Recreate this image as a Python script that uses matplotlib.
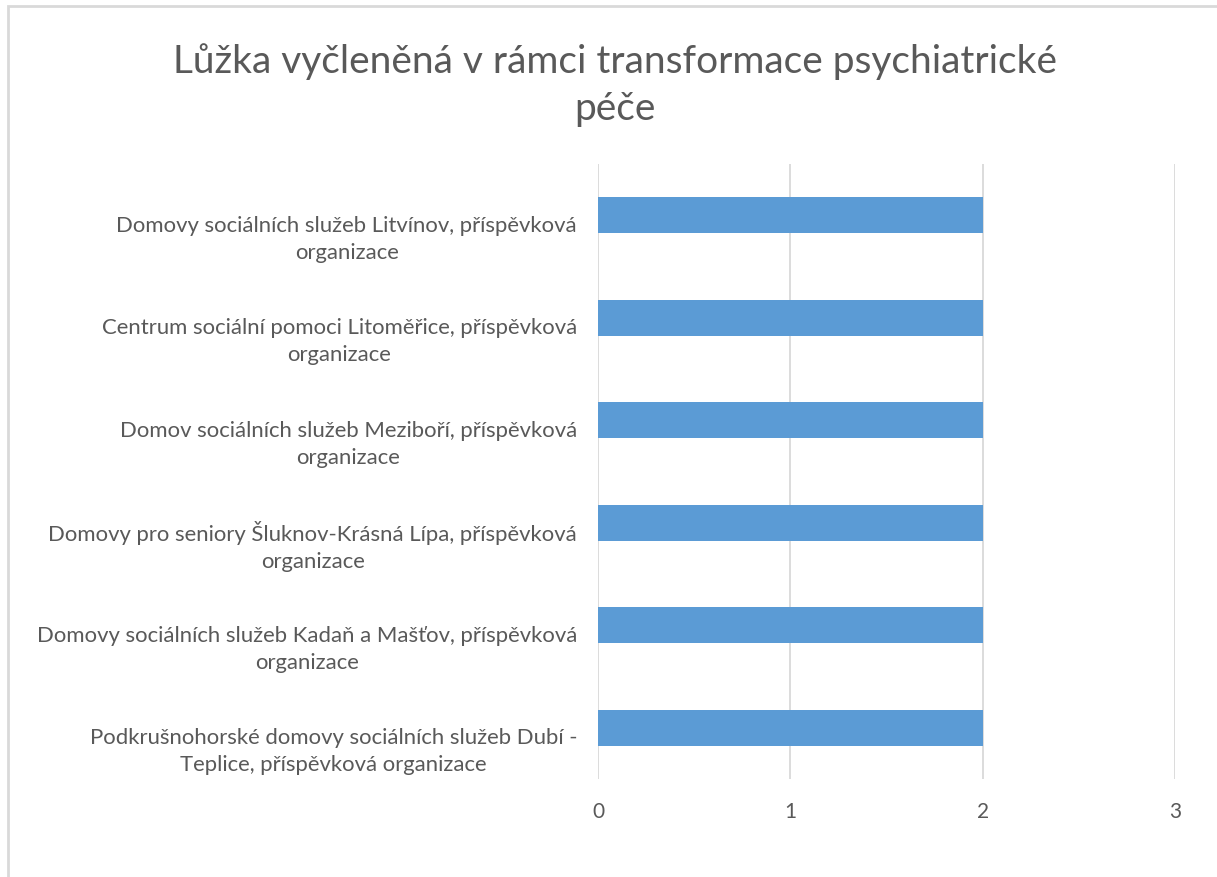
import matplotlib
matplotlib.use("Agg")
import matplotlib.pyplot as plt
from matplotlib.patches import Rectangle
from matplotlib.transforms import blended_transform_factory, ScaledTranslation

# data (top to bottom as shown)
categories = [
    "Domovy sociálních služeb Litvínov, příspěvková\norganizace",
    "Centrum sociální pomoci Litoměřice, příspěvková\norganizace",
    "Domov sociálních služeb Meziboří, příspěvková\norganizace",
    "Domovy pro seniory Šluknov-Krásná Lípa, příspěvková\norganizace",
    "Domovy sociálních služeb Kadaň a Mašťov, příspěvková\norganizace",
    "Podkrušnohorské domovy sociálních služeb Dubí -\nTeplice, příspěvková organizace",
]
values = [2, 2, 2, 2, 2, 2]
x_ticks = [0, 1, 2, 3]
title = "Lůžka vyčleněná v rámci transformace psychiatrické\npéče"

TEXT = "#595959"
GRID = "#D9D9D9"
BAR = "#5B9BD5"

plt.rcParams["font.family"] = ["Lato", "DejaVu Sans"]

fig = plt.figure(figsize=(12.17, 8.78), dpi=100)
ax = fig.add_axes([598 / 1217, 1 - 780 / 878, (1175 - 598) / 1217, (780 - 165) / 878])

ypos = list(range(len(categories)))
ax.barh(ypos, values, height=0.35, color=BAR, zorder=3)

ax.set_xlim(0, 3)
ax.set_ylim(len(categories) - 0.5, -0.5)
ax.set_xticks(x_ticks)
ax.set_yticks(ypos)
ax.set_yticklabels([])

ax.grid(axis="x", color=GRID, linewidth=1.3, zorder=0)
for s in ax.spines.values():
    s.set_visible(False)
ax.tick_params(axis="both", length=0, colors=TEXT)
ax.tick_params(axis="x", pad=16, labelsize=15)

# wrapped category labels: block right edge ~21px left of axis, lines centred
fig.canvas.draw()
trans = blended_transform_factory(ax.transAxes, ax.transData)
renderer = fig.canvas.get_renderer()
for y, lab in zip(ypos, categories):
    t = ax.text(0, y, lab, transform=trans, ha="center", va="center",
                multialignment="center", fontsize=15.9, color=TEXT,
                linespacing=1.45)
    w = t.get_window_extent(renderer).width
    t.set_transform(trans + ScaledTranslation(-(21 + w / 2) / 100, -23 / 100,
                                              fig.dpi_scale_trans))

fig.text(615 / 1217, 1 - 85 / 878, title, ha="center", va="center",
         fontsize=28, color=TEXT, linespacing=1.38)

# chart frame
fig.patches.append(Rectangle((8 / 1217, -0.1), 1.2, 1 - 7 / 878 + 0.1,
                             transform=fig.transFigure, fill=False,
                             edgecolor=GRID, linewidth=2))

fig.savefig("out.png", dpi=100)
